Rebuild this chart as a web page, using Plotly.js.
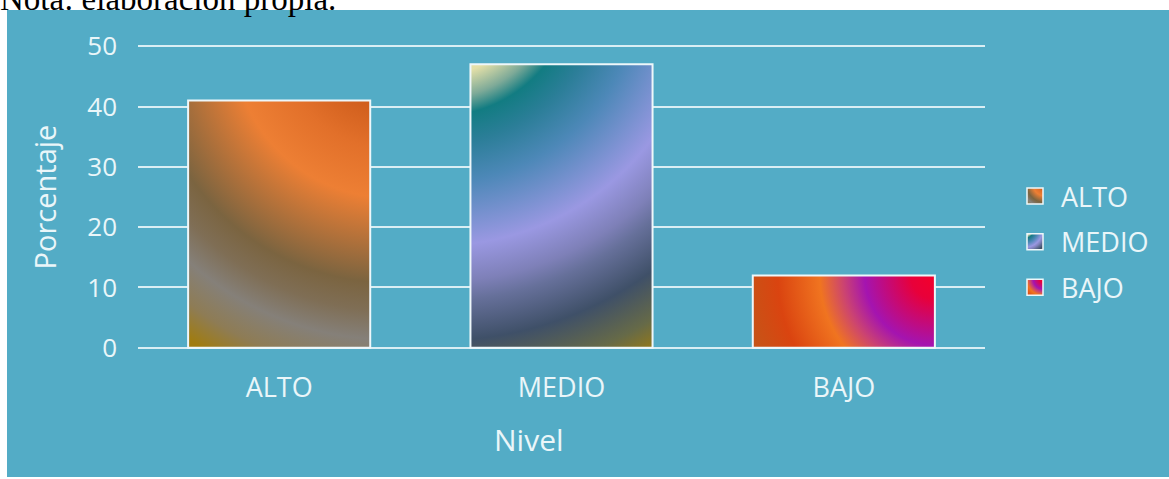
<!DOCTYPE html>
<html>
<head>
<meta charset="utf-8">
<script src="https://cdn.plot.ly/plotly-3.0.1.min.js"></script>
<style>
  html, body { margin: 0; padding: 0; background: #ffffff; }
  #chart { width: 1169px; height: 479px; }
</style>
</head>
<body>
<div id="chart"></div>
<script>
// Distribución por nivel (porcentaje)
const categorias = ['ALTO', 'MEDIO', 'BAJO'];
const porcentajes = [41, 47, 12];
const ticksY = [0, 10, 20, 30, 40, 50];

const TEXTO = '#eaf6f9';
const FONDO = '#53acc6';
const BORDE = '#eef7fa';
const colorBase = ['#c07030', '#6a80c0', '#e05030'];

// Radial fills for each bar: centre as a fraction of the bar box,
// radius and stop offsets measured against a reference bar size.
const rellenos = [
  { fx: 1.11, fy: -0.242, refW: 182, refH: 248, R: 360, stops: [
      [0.00, '#c24e16'], [0.175, '#cf5d1c'], [0.30, '#e2702a'], [0.436, '#ed7f34'],
      [0.672, '#7b6440'], [0.75, '#7f6e55'], [0.83, '#858079'], [0.92, '#8e7c55'],
      [1.00, '#a07c10'] ] },
  { fx: -0.17, fy: -0.296, refW: 182, refH: 284, R: 430, stops: [
      [0.00, '#f6f0c0'], [0.22, '#e4e0a8'], [0.275, '#7eaa98'], [0.315, '#127c82'],
      [0.38, '#2b7e98'], [0.47, '#4d88b8'], [0.616, '#9a98e2'], [0.70, '#7e80b8'],
      [0.744, '#66709a'], [0.837, '#3f5068'], [0.93, '#666a48'], [1.00, '#9c7c12'] ] },
  { fx: 1.0, fy: 0.0, refW: 182, refH: 72, R: 200, stops: [
      [0.00, '#f4002a'], [0.12, '#e8003a'], [0.35, '#a414b0'], [0.46, '#cc4470'],
      [0.575, '#f07420'], [0.785, '#da4410'], [0.98, '#c45618'], [1.00, '#c45618'] ] }
];

const trazas = categorias.map((cat, i) => ({
  type: 'bar',
  x: [cat],
  y: [porcentajes[i]],
  name: cat,
  legendgroup: cat,
  marker: { color: colorBase[i], line: { color: BORDE, width: 2 } },
  hoverinfo: 'x+y'
}));

const W = 1169, H = 479;
const mL = 138, mR = 184, mT = 45, mB = 130;
const pw = W - mL - mR, ph = H - mT - mB;
const px = x => (x - mL) / pw;          // pixel -> paper x
const py = y => (H - mB - y) / ph;      // pixel -> paper y

const layout = {
  width: W, height: H,
  margin: { l: mL, r: mR, t: mT, b: mB, pad: 0 },
  paper_bgcolor: '#ffffff',
  plot_bgcolor: 'rgba(0,0,0,0)',
  font: { family: '"Open Sans", "Noto Sans", sans-serif', color: TEXTO },
  barmode: 'overlay',
  bargap: 0.355,
  xaxis: {
    type: 'category',
    categoryorder: 'array',
    categoryarray: categorias,
    showgrid: false, showline: false, zeroline: false,
    ticks: '', ticklabelstandoff: 20,
    tickfont: { size: 27, color: TEXTO },
    fixedrange: true
  },
  yaxis: {
    // a small margin on both ends keeps the 0 and 50 grid lines visible
    range: [-0.2, 50.2],
    tickvals: ticksY,
    ticktext: ticksY.map(String),
    showgrid: true, gridcolor: '#d9eef4', gridwidth: 2,
    zeroline: false, showline: false,
    ticks: '', ticklabelstandoff: 20,
    tickfont: { size: 26, color: TEXTO },
    title: { text: 'Porcentaje', font: { size: 29, color: TEXTO }, standoff: 22 },
    fixedrange: true
  },
  showlegend: true,
  legend: {
    x: px(1021), y: py(172), xanchor: 'left', yanchor: 'top',
    bgcolor: 'rgba(0,0,0,0)', borderwidth: 0,
    font: { size: 27, color: TEXTO },
    traceorder: 'grouped', tracegroupgap: 7.5
  },
  shapes: [{
    type: 'rect', xref: 'paper', yref: 'paper', layer: 'below',
    x0: px(7), x1: px(1169), y0: py(477), y1: py(10),
    fillcolor: FONDO, line: { width: 0 }
  }],
  annotations: [
    {
      text: 'Nota: elaboración propia.', showarrow: false,
      xref: 'paper', yref: 'paper', x: px(-2), y: py(-1.5), xanchor: 'left', yanchor: 'middle',
      font: { family: '"Liberation Serif", "Times New Roman", serif', size: 33, color: '#000000' }
    },
    {
      text: 'Nivel', showarrow: false,
      xref: 'paper', yref: 'paper', x: px(529), y: py(439), xanchor: 'center', yanchor: 'middle',
      font: { size: 30, color: TEXTO }
    }
  ]
};

const NS = 'http://www.w3.org/2000/svg';

function degradado(svg, id, bb, spec, escala) {
  let defs = svg.querySelector('defs');
  if (!defs) { defs = document.createElementNS(NS, 'defs'); svg.insertBefore(defs, svg.firstChild); }
  const viejo = defs.querySelector('#' + id);
  if (viejo) viejo.remove();
  const g = document.createElementNS(NS, 'radialGradient');
  const cx = bb.x + spec.fx * bb.width;
  const cy = bb.y + spec.fy * bb.height;
  g.setAttribute('id', id);
  g.setAttribute('gradientUnits', 'userSpaceOnUse');
  g.setAttribute('cx', cx); g.setAttribute('cy', cy);
  g.setAttribute('fx', cx); g.setAttribute('fy', cy);
  g.setAttribute('r', spec.R * escala);
  spec.stops.forEach(([o, c]) => {
    const s = document.createElementNS(NS, 'stop');
    s.setAttribute('offset', o);
    s.setAttribute('stop-color', c);
    g.appendChild(s);
  });
  defs.appendChild(g);
}

function pintar(gd) {
  const svg = gd.querySelector('svg.main-svg');
  gd.querySelectorAll('.barlayer .trace').forEach((tr, i) => {
    const p = tr.querySelector('.point path');
    if (!p || !rellenos[i]) return;
    const bb = p.getBBox();
    degradado(svg, 'barra' + i, bb, rellenos[i], bb.width / rellenos[i].refW);
    p.style.fill = 'url(#barra' + i + ')';
  });
  gd.querySelectorAll('.legend .traces').forEach((tr, i) => {
    const p = tr.querySelector('.legendpoints path');
    if (!p || !rellenos[i]) return;
    p.setAttribute('d', 'M2,8H-14V-8H2Z');
    const bb = p.getBBox();
    const sp = rellenos[i];
    degradado(svg, 'leyenda' + i, bb, sp, Math.sqrt(bb.width * bb.height) / Math.sqrt(sp.refW * sp.refH));
    p.style.fill = 'url(#leyenda' + i + ')';
    p.style.strokeWidth = '1.5px';
  });
}

const gd = document.getElementById('chart');
Plotly.newPlot(gd, trazas, layout, { displayModeBar: false, staticPlot: true }).then(() => {
  pintar(gd);
  gd.on('plotly_afterplot', () => pintar(gd));
});
</script>
</body>
</html>
